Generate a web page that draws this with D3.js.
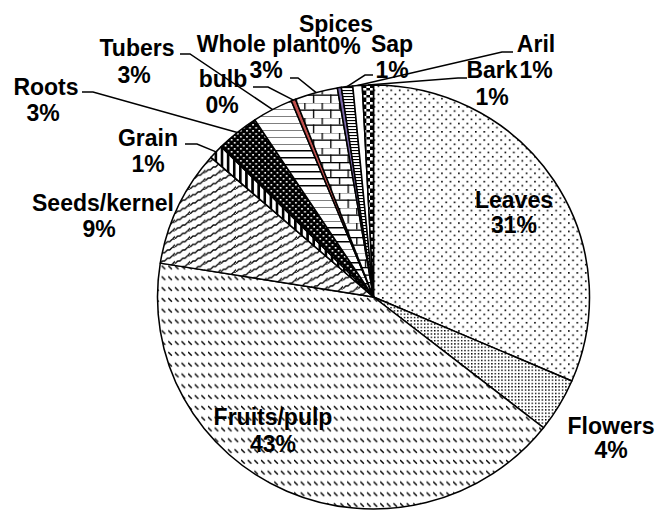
<!DOCTYPE html>
<html>
<head>
<meta charset="utf-8">
<script src="https://cdn.jsdelivr.net/npm/d3@7"></script>
<style>
  html, body { margin: 0; padding: 0; background: #fff; }
  svg { display: block; }
  text { font-family: "Liberation Sans", Arial, Helvetica, sans-serif; font-weight: bold; font-size: 23px; fill: #000; }
</style>
</head>
<body>
<svg id="chart" width="657" height="515"></svg>
<script>
// ---- data ----
const categories = ["Leaves", "Flowers", "Fruits/pulp", "Seeds/kernel", "Grain", "Roots", "Tubers", "bulb", "Whole plant", "Spices", "Sap", "Aril", "Bark"];
const values = [31.5, 4.1, 42.0, 8.9, 1.1, 3.2, 3.05, 0.33, 3.2, 0.3, 0.85, 0.7, 0.83];
const pctLabels = ["31%", "4%", "43%", "9%", "1%", "3%", "3%", "0%", "3%", "0%", "1%", "1%", "1%"];

// ---- layout (positions / styles, not data) ----
const W = 657, H = 515;
const cx = 373.5, cy = 297, r = 212, sx = 216 / 212;
const fills = {
  "Leaves": "url(#pLeaves)", "Flowers": "url(#pFlowers)", "Fruits/pulp": "url(#pFruits)",
  "Seeds/kernel": "url(#pSeeds)", "Grain": "url(#pGrain)", "Roots": "url(#pRoots)",
  "Tubers": "url(#pTubers)", "bulb": "#c0504d", "Whole plant": "url(#pBricks)",
  "Spices": "#7b68a8", "Sap": "url(#pSap)", "Aril": "#ffffff", "Bark": "url(#pChecker)"
};
// label anchor: [centre x, first baseline y, dx of second line, line gap]
const labelPos = {
  "Leaves": [514, 208, 0, 25], "Flowers": [611, 434, 0, 24], "Fruits/pulp": [273, 425, 0, 27],
  "Seeds/kernel": [103, 211, -4, 26], "Grain": [148, 146, 0, 26], "Roots": [46, 95, -3, 26],
  "Tubers": [137, 56, -3, 27], "bulb": [223, 87, -1, 26], "Whole plant": [262, 52, 4, 26],
  "Spices": [336, 32, 8, 22], "Sap": [392, 52, 0, 26], "Aril": [536, 52, 0, 26], "Bark": [492, 78, 0, 27]
};
// leader lines: start point at label, elbow point; end is on the rim at slice mid-angle
const leaders = {
  "Roots": [[82, 92], [93, 92]],
  "Tubers": [[180, 54], [190, 54]],
  "Grain": [[185, 144], [197, 144]],
  "bulb": [[253, 87], [268, 87]],
  "Whole plant": [[290, 78], [298, 78]],
  "Sap": [[373, 75], [365, 75]],
  "Aril": [[513, 52], [502, 52]],
  "Bark": [[467, 78], [458, 78]]
};

const svg = d3.select("#chart");
const defs = svg.append("defs");

function pattern(id, w, h, build) {
  const p = defs.append("pattern").attr("id", id).attr("patternUnits", "userSpaceOnUse")
    .attr("width", w).attr("height", h);
  p.append("rect").attr("width", w).attr("height", h).attr("fill", "#fff");
  build(p);
}
pattern("pLeaves", 8.3, 8.3, p => {
  p.append("rect").attr("x", 0).attr("y", 0).attr("width", 1.6).attr("height", 1.6).attr("fill", "#000");
  p.append("rect").attr("x", 4.15).attr("y", 4.15).attr("width", 1.6).attr("height", 1.6).attr("fill", "#000");
});
pattern("pFlowers", 3.3, 3.3, p => {
  p.append("rect").attr("width", 1.4).attr("height", 1.4).attr("fill", "#000");
});
pattern("pFruits", 6.5, 10.8, p => {
  p.append("path").attr("d", "M0,1 L3.6,4.6").attr("stroke", "#000").attr("stroke-width", 1.4);
});
pattern("pSeeds", 15, 8.3, p => {
  p.append("path").attr("d", "M-1,9.3 L2.77,5.53 L5,5.53 L7.77,2.77 L10,2.77 L12.77,0 L16,0 M12.77,8.3 L16,5.07 M-2,1.0 L-1,0")
    .attr("fill", "none").attr("stroke", "#000").attr("stroke-width", 1.3);
});
pattern("pGrain", 6, 6, p => {
  p.append("rect").attr("x", 0).attr("width", 2.6).attr("height", 6).attr("fill", "#000");
});
pattern("pRoots", 6, 6, p => {
  p.append("rect").attr("width", 6).attr("height", 6).attr("fill", "#000");
  p.append("rect").attr("x", 1).attr("y", 1).attr("width", 1.6).attr("height", 1.6).attr("fill", "#fff");
  p.append("rect").attr("x", 4).attr("y", 4).attr("width", 1.6).attr("height", 1.6).attr("fill", "#fff");
});
pattern("pTubers", 7, 7, p => {
  p.append("rect").attr("y", 0).attr("width", 7).attr("height", 1.5).attr("fill", "#000");
});
pattern("pBricks", 17, 15, p => {
  p.append("rect").attr("y", 0).attr("width", 17).attr("height", 1.3).attr("fill", "#000");
  p.append("rect").attr("y", 7.5).attr("width", 17).attr("height", 1.3).attr("fill", "#000");
  p.append("rect").attr("x", 0).attr("y", 0).attr("width", 1.3).attr("height", 7.5).attr("fill", "#000");
  p.append("rect").attr("x", 8.5).attr("y", 7.5).attr("width", 1.3).attr("height", 7.5).attr("fill", "#000");
});
pattern("pSap", 3, 3, p => {
  p.append("rect").attr("width", 3).attr("height", 1.1).attr("fill", "#000");
});
pattern("pChecker", 7, 7, p => {
  p.append("rect").attr("width", 3.5).attr("height", 3.5).attr("fill", "#000");
  p.append("rect").attr("x", 3.5).attr("y", 3.5).attr("width", 3.5).attr("height", 3.5).attr("fill", "#000");
});

const data = categories.map((c, i) => ({ cat: c, value: values[i], pct: pctLabels[i] }));
const pie = d3.pie().sort(null).value(d => d.value);
const arcs = pie(data);
const arc = d3.arc().innerRadius(0).outerRadius(r);

const g = svg.append("g").attr("transform", `translate(${cx},${cy}) scale(${sx},1)`);
g.selectAll("path.slice").data(arcs).enter().append("path")
  .attr("class", "slice")
  .attr("d", arc)
  .attr("fill", d => fills[d.data.cat])
  .attr("stroke", "#000")
  .attr("stroke-width", 1.5)
  .attr("stroke-linejoin", "round");

// leader lines
const rimPoint = d => {
  const a = (d.startAngle + d.endAngle) / 2;
  return [cx + sx * r * Math.sin(a), cy - r * Math.cos(a)];
};
const lineGen = d3.line();
svg.append("g").selectAll("path.leader").data(arcs.filter(d => leaders[d.data.cat])).enter()
  .append("path").attr("class", "leader")
  .attr("d", d => lineGen([leaders[d.data.cat][0], leaders[d.data.cat][1], rimPoint(d)]))
  .attr("fill", "none").attr("stroke", "#000").attr("stroke-width", 1.5);

// labels
const lab = svg.append("g").selectAll("text").data(arcs).enter().append("text")
  .attr("text-anchor", "middle");
lab.append("tspan")
  .attr("x", d => labelPos[d.data.cat][0])
  .attr("y", d => labelPos[d.data.cat][1])
  .text(d => d.data.cat);
lab.append("tspan")
  .attr("x", d => labelPos[d.data.cat][0] + labelPos[d.data.cat][2])
  .attr("y", d => labelPos[d.data.cat][1] + labelPos[d.data.cat][3])
  .text(d => d.data.pct);
</script>
</body>
</html>
